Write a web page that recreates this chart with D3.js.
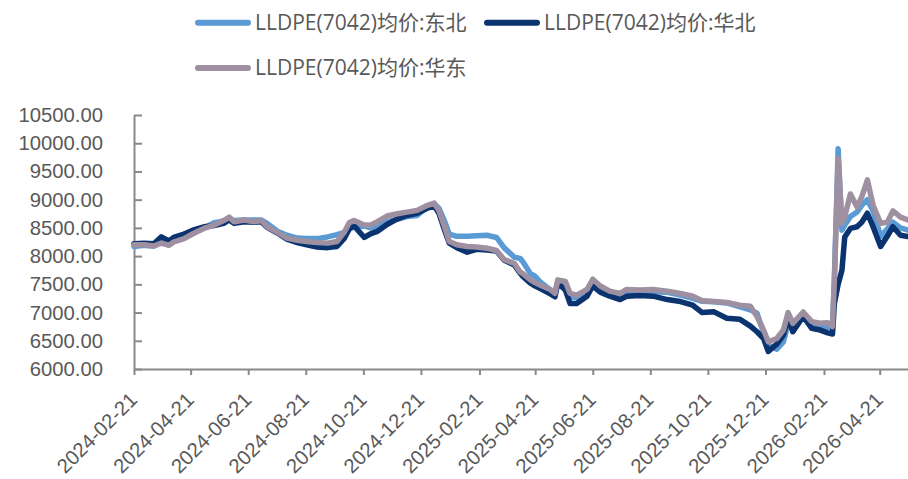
<!DOCTYPE html>
<html>
<head>
<meta charset="utf-8">
<script src="https://cdn.jsdelivr.net/npm/d3@7"></script>
<style>
  body { margin: 0; background: #fff; }
  svg { display: block; font-family: "Open Sans", "Noto Sans CJK SC", sans-serif; }
</style>
</head>
<body>
<svg id="chart" width="908" height="479"></svg>
<script>
const dates = ["2024-02-21","2024-03-03","2024-03-13","2024-03-21","2024-03-29","2024-04-03","2024-04-14","2024-04-25","2024-05-05","2024-05-16",
  "2024-05-26","2024-06-01","2024-06-06","2024-06-17","2024-06-27","2024-07-05","2024-07-11","2024-07-22","2024-08-01","2024-08-12",
  "2024-08-22","2024-09-02","2024-09-13","2024-09-23","2024-10-01","2024-10-06","2024-10-11","2024-10-22","2024-10-29","2024-11-05",
  "2024-11-15","2024-11-26","2024-12-06","2024-12-17","2024-12-28","2025-01-04","2025-01-09","2025-01-15","2025-01-20","2025-01-28",
  "2025-02-08","2025-02-18","2025-03-01","2025-03-11","2025-03-19","2025-03-30","2025-04-05","2025-04-08","2025-04-16","2025-04-21",
  "2025-04-26","2025-05-07","2025-05-12","2025-05-15","2025-05-23","2025-05-28","2025-06-04","2025-06-15","2025-06-21","2025-06-29",
  "2025-07-09","2025-07-20","2025-07-27","2025-08-10","2025-08-24","2025-09-08","2025-09-22","2025-10-05","2025-10-15","2025-10-27",
  "2025-11-10","2025-11-24","2025-12-05","2025-12-12","2025-12-19","2025-12-24","2026-01-02","2026-01-09","2026-01-14","2026-01-19",
  "2026-01-30","2026-02-08","2026-02-17","2026-02-25","2026-03-02","2026-03-04","2026-03-08","2026-03-12","2026-03-15","2026-03-21",
  "2026-03-28","2026-04-02","2026-04-08","2026-04-14","2026-04-22","2026-04-29","2026-05-05","2026-05-13","2026-05-21"];

const dongbei = [8170,8190,8180,8250,8200,8260,8320,8420,8500,8590,
  8620,8650,8630,8640,8640,8640,8580,8440,8370,8320,
  8310,8310,8340,8380,8420,8480,8520,8530,8500,8520,
  8610,8650,8700,8720,8880,8930,8850,8620,8390,8350,
  8350,8360,8370,8330,8150,7980,7960,7900,7690,7640,
  7550,7400,7340,7550,7500,7280,7260,7370,7520,7440,
  7350,7250,7330,7380,7370,7360,7310,7250,7200,7190,
  7170,7100,7050,6990,6640,6420,6350,6480,6800,6740,
  6960,6780,6750,6740,6720,7580,9900,8460,8550,8700,
  8780,8900,9000,8800,8350,8480,8600,8500,8460];

const huabei = [8220,8230,8220,8340,8270,8330,8390,8470,8520,8540,
  8580,8640,8580,8610,8600,8610,8510,8410,8300,8240,
  8200,8160,8150,8170,8320,8480,8540,8330,8400,8440,
  8560,8660,8720,8760,8850,8890,8760,8460,8230,8150,
  8070,8120,8110,8090,7930,7840,7700,7640,7520,7470,
  7430,7330,7280,7520,7400,7160,7160,7290,7470,7360,
  7290,7230,7290,7300,7290,7230,7195,7130,7000,7016,
  6900,6880,6760,6660,6540,6310,6440,6600,6900,6660,
  6930,6720,6690,6640,6620,7160,7500,7750,8340,8490,
  8520,8600,8760,8520,8170,8350,8520,8370,8345];

const huadong = [8200,8200,8180,8230,8190,8250,8310,8410,8490,8550,
  8630,8690,8610,8640,8610,8630,8520,8420,8320,8280,
  8260,8240,8230,8260,8430,8590,8630,8550,8550,8610,
  8710,8750,8780,8810,8900,8940,8810,8520,8260,8200,
  8170,8160,8140,8100,7940,7870,7720,7690,7580,7530,
  7490,7410,7340,7580,7550,7340,7310,7410,7590,7470,
  7380,7340,7410,7400,7410,7380,7340,7290,7210,7195,
  7180,7130,7110,6930,6690,6480,6540,6690,7000,6810,
  7010,6840,6810,6820,6750,7580,9730,8580,8700,9100,
  8870,9050,9350,8900,8580,8600,8800,8690,8640];

const seriesNames = ["LLDPE(7042)均价:东北", "LLDPE(7042)均价:华北", "LLDPE(7042)均价:华东"];
const seriesColors = ["#5B9BD5", "#0B336F", "#9E90A1"];
const yTickValues = [6000, 6500, 7000, 7500, 8000, 8500, 9000, 9500, 10000, 10500];
const xTickLabels = ["2024-02-21","2024-04-21","2024-06-21","2024-08-21","2024-10-21","2024-12-21",
  "2025-02-21","2025-04-21","2025-06-21","2025-08-21","2025-10-21","2025-12-21","2026-02-21","2026-04-21"];

const parse = d3.timeParse("%Y-%m-%d");
const fmt = d3.timeFormat("%Y-%m-%d");

const svg = d3.select("#chart");
const margin = { top: 115, right: 0, bottom: 110, left: 134 };
const width = 908, height = 479;
const innerWidth = width - margin.left - margin.right;
const innerHeight = height - margin.top - margin.bottom;

const x = d3.scaleTime()
    .domain([parse("2024-02-21"), parse("2026-05-21")])
    .range([0, innerWidth]);

const y = d3.scaleLinear()
    .domain([6000, 10500])
    .range([innerHeight, 0]);

const g = svg.append("g")
    .attr("transform", `translate(${margin.left},${margin.top})`);

const axisColor = "#898989";
const textColor = "#595959";

// y axis, ticks pointing inside
const yAxis = g.append("g")
    .call(d3.axisLeft(y).tickValues(yTickValues).tickSize(-8).tickSizeOuter(0).tickPadding(31)
        .tickFormat(d => d3.format(".2f")(d)));
yAxis.select(".domain").attr("stroke", axisColor).attr("stroke-width", 2);
yAxis.selectAll(".tick line").attr("stroke", axisColor).attr("stroke-width", 2);
yAxis.selectAll("text").attr("fill", textColor).style("font-size", "20.3px");

// x axis with rotated date labels
const xAxis = g.append("g")
    .attr("transform", `translate(0,${innerHeight})`)
    .call(d3.axisBottom(x).tickValues(xTickLabels.map(parse)).tickSize(6).tickSizeOuter(0)
        .tickFormat(fmt));
xAxis.select(".domain").attr("stroke", axisColor).attr("stroke-width", 2);
xAxis.selectAll(".tick line").attr("stroke", axisColor).attr("stroke-width", 2);
xAxis.selectAll("text")
    .attr("fill", textColor)
    .style("font-size", "20.3px")
    .attr("x", 0).attr("y", 0).attr("dy", "0.35em")
    .attr("text-anchor", "end")
    .attr("transform", "translate(-1,27) rotate(-45)");

// lines
const series = [dongbei, huabei, huadong];
const line = d3.line()
    .x((d, i) => x(parse(dates[i])))
    .y(d => y(d));

series.forEach((vals, k) => {
    g.append("path")
        .datum(vals)
        .attr("fill", "none")
        .attr("stroke", seriesColors[k])
        .attr("stroke-width", 5.5)
        .attr("stroke-linejoin", "round")
        .attr("stroke-linecap", "round")
        .attr("d", line);
});

// legend
const legendItems = [
    { x: 195, y: 22.7 },
    { x: 484, y: 22.7 },
    { x: 195, y: 68 }
];
legendItems.forEach((p, k) => {
    const row = svg.append("g").attr("transform", `translate(${p.x},${p.y})`);
    row.append("line")
        .attr("x1", 3).attr("x2", 53)
        .attr("stroke", seriesColors[k])
        .attr("stroke-width", 6)
        .attr("stroke-linecap", "round");
    row.append("text")
        .attr("x", 60)
        .attr("dy", "0.35em")
        .attr("fill", textColor)
        .style("font-size", "21px")
        .text(seriesNames[k]);
});
</script>
</body>
</html>
